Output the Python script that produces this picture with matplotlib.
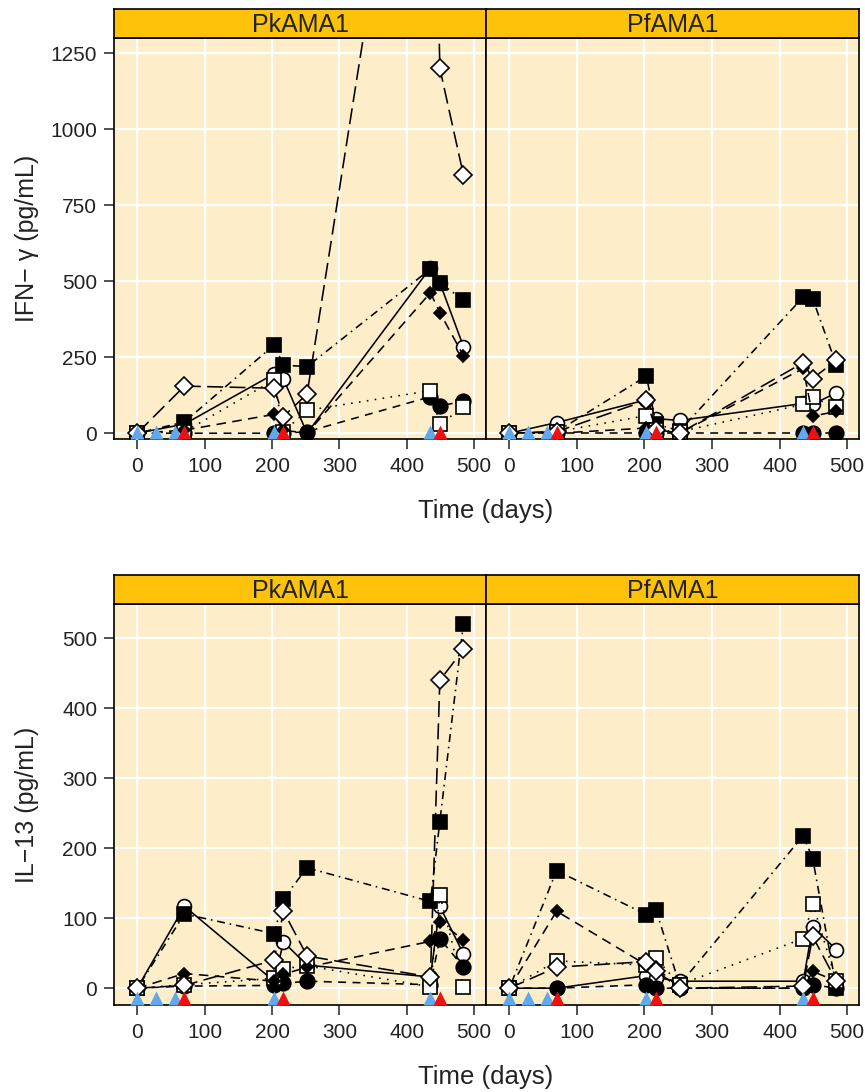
import matplotlib
matplotlib.use("Agg")
import matplotlib.pyplot as plt
from matplotlib.transforms import blended_transform_factory

plt.rcParams['font.family'] = ['Liberation Sans', 'DejaVu Sans']

# sampling days and immunisation / challenge days
days = [0, 70, 203, 217, 252, 435, 449, 484]
blue_days = [0, 28, 56, 203, 435]
red_days = [70, 217, 449]

# one row per animal, order: open circle, filled circle, filled square,
# open square, filled diamond, open diamond
ifng_pk = [
    [0, 30, 195, 178, 0, 544, 495, 285],
    [0, 0, 0, 0, 5, 120, 90, 105],
    [0, 37, 290, 224, 219, 540, 495, 438],
    [0, 5, 175, 5, 75, 140, 30, 85],
    [0, 10, 62, 10, 0, 462, 397, 255],
    [0, 155, 148, 55, 129, 2700, 1200, 850],
]
ifng_pf = [
    [0, 35, 110, 48, 42, 98, 95, 133],
    [0, 0, 0, 0, 0, 0, 0, 0],
    [0, 5, 188, 30, 8, 448, 442, 225],
    [0, 5, 58, 10, 5, 95, 118, 85],
    [0, 0, 17, 10, 0, 213, 56, 72],
    [0, 5, 108, 12, 0, 232, 180, 240],
]
il13_pk = [
    [0, 117, 10, 66, 33, 16, 117, 49],
    [0, 3, 4, 7, 10, 5, 71, 30],
    [0, 106, 78, 128, 172, 124, 238, 521],
    [0, 5, 14, 28, 32, 2, 133, 2],
    [0, 21, 10, 20, 30, 67, 95, 69],
    [0, 4, 40, 110, 46, 16, 440, 484],
]
il13_pf = [
    [0, 0, 18, 15, 10, 10, 88, 55],
    [0, 0, 5, 0, 0, 0, 5, 0],
    [0, 168, 105, 112, 5, 218, 185, 0],
    [0, 39, 33, 43, 5, 71, 121, 10],
    [0, 110, 33, 30, 0, 0, 24, 10],
    [0, 30, 38, 25, 0, 3, 74, 10],
]

markers = ['o', 'o', 's', 's', 'D', 'D']
filled = [False, True, True, False, True, False]
msizes = [10, 10.5, 10, 9.5, 6.5, 9]
dashes = [None, (5, 4), (1, 3, 5, 3), (1, 4), (6, 4), (10, 4)]

W, H = 865, 1092
bg = '#FDEDC9'
strip_col = '#FFC20A'

fig = plt.figure(figsize=(W / 100, H / 100), dpi=100)


def px_axes(x0, y0, x1, y1):
    return fig.add_axes([x0 / W, 1 - y1 / H, (x1 - x0) / W, (y1 - y0) / H])


def draw_panel(ax, rows, ylim, yticks, title, strip_box, show_y):
    ax.set_facecolor(bg)
    for i, vals in enumerate(rows):
        line, = ax.plot(days, vals, color='black', lw=1.15,
                        marker=markers[i], ms=msizes[i], mew=1.2,
                        mec='black', mfc='black' if filled[i] else 'white',
                        zorder=3 + i * 0.1)
        if dashes[i] is not None:
            line.set_dashes(dashes[i])
    trans = blended_transform_factory(ax.transData, ax.transAxes)
    ax.plot(blue_days, [0.017] * len(blue_days), ls='none', marker='^',
            ms=10.5, color='#62A8EE', mec='none', transform=trans, zorder=5)
    ax.plot(red_days, [0.017] * len(red_days), ls='none', marker='^',
            ms=10.5, color='#EE1111', mec='none', transform=trans, zorder=5)
    ax.set_xlim(-34.5, 517.5)
    ax.set_ylim(*ylim)
    ax.set_xticks([0, 100, 200, 300, 400, 500])
    ax.set_yticks(yticks)
    ax.grid(True, color='white', lw=1.6, zorder=0)
    ax.set_axisbelow(True)
    for s in ax.spines.values():
        s.set_linewidth(1.2)
    ax.tick_params(axis='both', length=7, width=1.1, labelsize=15,
                   direction='out', colors='#222222')
    ax.tick_params(axis='x', pad=6)
    ax.tick_params(axis='y', pad=5)
    if not show_y:
        ax.tick_params(axis='y', left=False, labelleft=False)
    st = px_axes(*strip_box)
    st.set_facecolor(strip_col)
    st.set_xticks([])
    st.set_yticks([])
    for s in st.spines.values():
        s.set_linewidth(1.2)
    st.text(0.5, 0.46, title, ha='center', va='center', fontsize=18,
            color='#222222', transform=st.transAxes)


ax1 = px_axes(114, 38, 486, 439)
draw_panel(ax1, ifng_pk, (-19, 1300), [0, 250, 500, 750, 1000, 1250],
           'PkAMA1', (114, 9, 486, 38), True)
ax2 = px_axes(486, 38, 859, 439)
draw_panel(ax2, ifng_pf, (-19, 1300), [0, 250, 500, 750, 1000, 1250],
           'PfAMA1', (486, 9, 859, 38), False)
ax3 = px_axes(114, 604, 486, 1005)
draw_panel(ax3, il13_pk, (-24, 549), [0, 100, 200, 300, 400, 500],
           'PkAMA1', (114, 575, 486, 604), True)
ax4 = px_axes(486, 604, 859, 1005)
draw_panel(ax4, il13_pf, (-24, 549), [0, 100, 200, 300, 400, 500],
           'PfAMA1', (486, 575, 859, 604), False)

fig.text(486 / W, 1 - 511 / H, 'Time (days)', ha='center', va='center',
         fontsize=18.5, color='#222222')
fig.text(486 / W, 1 - 1077 / H, 'Time (days)', ha='center', va='center',
         fontsize=18.5, color='#222222')
fig.text(27 / W, 1 - 238 / H, 'IFN\u2212 \u03b3 (pg/mL)', ha='center',
         va='center', rotation=90, fontsize=18, color='#222222')
fig.text(27 / W, 1 - 805 / H, 'IL\u221213 (pg/mL)', ha='center',
         va='center', rotation=90, fontsize=18, color='#222222')

fig.savefig('out.png', dpi=100, facecolor='white')
